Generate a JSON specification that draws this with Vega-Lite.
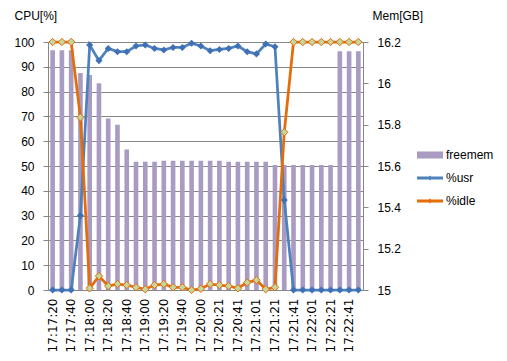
{
  "$schema": "https://vega.github.io/schema/vega-lite/v6.json",
  "width": 315,
  "height": 248,
  "autosize": {"type": "none"},
  "padding": {"left": 48, "top": 42, "right": 144, "bottom": 71},
  "background": "white",
  "config": {
    "view": {"stroke": null},
    "font": "Liberation Sans",
    "axis": {"labelFont": "Liberation Sans", "labelFontSize": 12, "labelColor": "#000000", "titleFont": "Liberation Sans", "titleFontSize": 12, "titleFontWeight": "normal", "titleColor": "#000000", "domainColor": "#878787", "tickColor": "#878787", "labelOverlap": false}
  },
  "data": {"values": [
    {"t": "17:17:20", "mem": 16.16, "usr": 0, "idle": 100},
    {"t": "17:17:30", "mem": 16.16, "usr": 0, "idle": 100},
    {"t": "17:17:40", "mem": 16.16, "usr": 0, "idle": 100},
    {"t": "17:17:50", "mem": 16.05, "usr": 30, "idle": 69.6},
    {"t": "17:18:00", "mem": 16.04, "usr": 98.8, "idle": 0.7},
    {"t": "17:18:10", "mem": 16.0, "usr": 92.5, "idle": 5.6},
    {"t": "17:18:20", "mem": 15.83, "usr": 97.4, "idle": 1.6},
    {"t": "17:18:30", "mem": 15.8, "usr": 96.1, "idle": 2.4},
    {"t": "17:18:40", "mem": 15.68, "usr": 96.1, "idle": 2.0},
    {"t": "17:18:50", "mem": 15.62, "usr": 98.4, "idle": 1.1},
    {"t": "17:19:00", "mem": 15.62, "usr": 98.8, "idle": 0.3},
    {"t": "17:19:10", "mem": 15.62, "usr": 97.4, "idle": 2.0},
    {"t": "17:19:20", "mem": 15.625, "usr": 96.8, "idle": 2.4},
    {"t": "17:19:30", "mem": 15.625, "usr": 97.8, "idle": 1.1},
    {"t": "17:19:40", "mem": 15.625, "usr": 97.8, "idle": 1.1},
    {"t": "17:19:50", "mem": 15.625, "usr": 99.5, "idle": 0},
    {"t": "17:20:00", "mem": 15.625, "usr": 98.4, "idle": 0.5},
    {"t": "17:20:11", "mem": 15.625, "usr": 96.5, "idle": 2.4},
    {"t": "17:20:21", "mem": 15.625, "usr": 97.0, "idle": 2.0},
    {"t": "17:20:31", "mem": 15.62, "usr": 97.4, "idle": 1.6},
    {"t": "17:20:41", "mem": 15.62, "usr": 98.4, "idle": 0.7},
    {"t": "17:20:51", "mem": 15.62, "usr": 96.1, "idle": 3.0},
    {"t": "17:21:01", "mem": 15.62, "usr": 95.2, "idle": 4.0},
    {"t": "17:21:11", "mem": 15.62, "usr": 99.2, "idle": 0.3},
    {"t": "17:21:21", "mem": 15.605, "usr": 98.1, "idle": 1.1},
    {"t": "17:21:31", "mem": 15.605, "usr": 36.3, "idle": 63.6},
    {"t": "17:21:41", "mem": 15.605, "usr": 0, "idle": 100},
    {"t": "17:21:51", "mem": 15.605, "usr": 0, "idle": 100},
    {"t": "17:22:01", "mem": 15.605, "usr": 0, "idle": 100},
    {"t": "17:22:11", "mem": 15.605, "usr": 0, "idle": 100},
    {"t": "17:22:21", "mem": 15.605, "usr": 0, "idle": 100},
    {"t": "17:22:31", "mem": 16.155, "usr": 0, "idle": 100},
    {"t": "17:22:41", "mem": 16.155, "usr": 0, "idle": 100},
    {"t": "17:22:51", "mem": 16.155, "usr": 0, "idle": 100}
  ]},
  "encoding": {
    "x": {
      "field": "t", "type": "ordinal", "sort": null,
      "scale": {"type": "band", "paddingInner": 0, "paddingOuter": 0},
      "axis": {
        "title": null, "labelAngle": -90, "labelAlign": "right", "labelBaseline": "middle",
        "labelFont": "DejaVu Sans", "labelFontSize": 12, "ticks": false, "tickSize": 0, "labelPadding": 8,
        "grid": false, "labelOverlap": false,
        "values": ["17:17:20","17:17:40","17:18:00","17:18:20","17:18:40","17:19:00","17:19:20","17:19:40","17:20:00","17:20:21","17:20:41","17:21:01","17:21:21","17:21:41","17:22:01","17:22:21","17:22:41"]
      }
    }
  },
  "layer": [
    {
      "mark": {"type": "bar", "width": {"band": 0.5}},
      "encoding": {
        "y": {
          "field": "mem", "type": "quantitative",
          "scale": {"domain": [15, 16.2], "zero": false, "nice": false},
          "axis": {
            "orient": "right", "values": [15, 15.2, 15.4, 15.6, 15.8, 16, 16.2], "format": ".1~f",
            "grid": false, "tickSize": 5, "labelPadding": 9, "labelOverlap": false,
            "title": "Mem[GB]", "titleAngle": 0, "titleAlign": "left", "titleBaseline": "middle",
            "titleX": 9, "titleY": -27
          }
        },
        "y2": {"datum": 15},
        "color": {
          "datum": "freemem",
          "scale": {"domain": ["freemem", "%usr", "%idle"], "range": ["#A99BC1", "#4F81BD", "#E46C0A"]},
          "legend": {
            "title": null, "orient": "none", "legendX": 369, "legendY": 100,
            "labelFont": "Liberation Sans", "labelFontSize": 12, "labelColor": "#000000",
            "symbolSize": 676, "rowPadding": 4, "labelOffset": 3, "padding": 0,
            "encode": {
              "symbols": {
                "update": {
                  "shape": {"signal": "datum.value === 'freemem' ? 'M-1,-0.27H1V0.27H-1Z' : 'M-1,-0.11H1V0.11H-1Z M0,-0.2L0.2,0L0,0.2L-0.2,0Z'"},
                  "fill": {"signal": "scale('color', datum.value)"},
                  "stroke": {"value": "transparent"},
                  "strokeWidth": {"value": 0},
                  "fillOpacity": {"value": 1}
                }
              }
            }
          }
        }
      }
    },
    {
      "layer": [
        {
          "mark": {"type": "line", "strokeWidth": 2.75},
          "encoding": {
            "y": {
              "field": "usr", "type": "quantitative",
              "scale": {"domain": [0, 100], "nice": false},
              "axis": {
                "orient": "left", "values": [0, 10, 20, 30, 40, 50, 60, 70, 80, 90, 100],
                "grid": true, "gridColor": "#878787", "gridOpacity": 1, "tickSize": 5, "labelPadding": 9, "labelOverlap": false,
                "title": "CPU[%]", "titleAngle": 0, "titleAlign": "left", "titleBaseline": "middle",
                "titleX": -34, "titleY": -27
              }
            },
            "color": {"datum": "%usr"}
          }
        },
        {
          "mark": {"type": "point", "shape": "diamond", "filled": true, "size": 50, "color": "#3D70B5", "opacity": 1},
          "encoding": {
            "y": {
              "field": "usr", "type": "quantitative",
              "axis": {
                "orient": "left", "values": [0, 10, 20, 30, 40, 50, 60, 70, 80, 90, 100],
                "grid": true, "gridColor": "#878787", "gridOpacity": 1, "tickSize": 5, "labelPadding": 9, "labelOverlap": false,
                "title": "CPU[%]", "titleAngle": 0, "titleAlign": "left", "titleBaseline": "middle",
                "titleX": -34, "titleY": -27
              }
            }
          }
        },
        {
          "mark": {"type": "line", "strokeWidth": 2.75},
          "encoding": {
            "y": {
              "field": "idle", "type": "quantitative",
              "axis": {
                "orient": "left", "values": [0, 10, 20, 30, 40, 50, 60, 70, 80, 90, 100],
                "grid": true, "gridColor": "#878787", "gridOpacity": 1, "tickSize": 5, "labelPadding": 9, "labelOverlap": false,
                "title": "CPU[%]", "titleAngle": 0, "titleAlign": "left", "titleBaseline": "middle",
                "titleX": -34, "titleY": -27
              }
            },
            "color": {"datum": "%idle"}
          }
        },
        {
          "mark": {"type": "point", "shape": "diamond", "filled": true, "size": 55, "fill": "#C3D69B", "stroke": "#E46C0A", "strokeWidth": 1, "opacity": 1},
          "encoding": {
            "y": {
              "field": "idle", "type": "quantitative",
              "axis": {
                "orient": "left", "values": [0, 10, 20, 30, 40, 50, 60, 70, 80, 90, 100],
                "grid": true, "gridColor": "#878787", "gridOpacity": 1, "tickSize": 5, "labelPadding": 9, "labelOverlap": false,
                "title": "CPU[%]", "titleAngle": 0, "titleAlign": "left", "titleBaseline": "middle",
                "titleX": -34, "titleY": -27
              }
            }
          }
        }
      ]
    }
  ],
  "resolve": {"scale": {"y": "independent"}}
}
